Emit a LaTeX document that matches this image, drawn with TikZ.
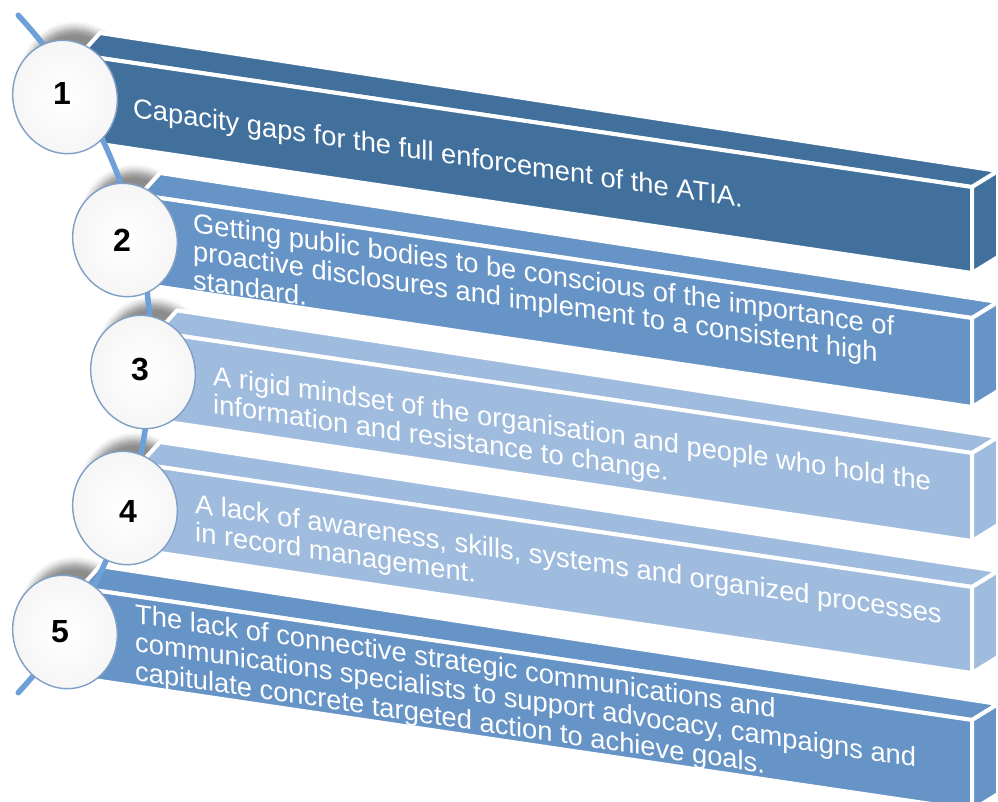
\documentclass[tikz,border=0pt]{standalone}
\usepackage{fontspec}
\setmainfont{Liberation Sans}
\usetikzlibrary{shapes.geometric,shadows.blur}
\definecolor{bdark}{HTML}{41709C}
\definecolor{bmid}{HTML}{6794C6}
\definecolor{blight}{HTML}{9FBCDE}
\definecolor{arcblue}{HTML}{6CA0D6}
\definecolor{rim}{HTML}{7F9FC4}
% #1 colour, #2 xL, #3 yTL, #4 yTR, #5 h
\newcommand{\drawbar}[5]{%
  \path[face=#1] (#2,#3) -- (972,#4) -- (998,{#4-16}) -- ({#2+20},{#3-22}) -- cycle;
  \path[face=#1] (#2,#3) -- (972,#4) -- (972,{#4+#5}) -- (#2,{#3+#5}) -- cycle;
  \path[face=#1] (972,#4) -- (998,{#4-16}) -- (998,{#4+#5-16}) -- (972,{#4+#5}) -- cycle;
}
% #1 name, #2 x, #3 y, #4 text
\newcommand{\slanttext}[4]{%
  \begin{scope}[shift={(#2,#3)}, yslant=-0.148, transform shape]
    \node[txt] (#1) at (0,0) {#4};
  \end{scope}
}
\begin{document}
\begin{tikzpicture}[x=1pt,y=-1pt,
  face/.style={fill=#1, draw=white, line width=4pt, line join=round},
  txt/.style={text=white, anchor=north west, inner sep=0pt, align=left,
    font=\fontsize{27.3}{28.5}\selectfont},
  disc/.style={ellipse, minimum width=104pt, minimum height=114pt, inner sep=0pt,
    draw=rim, line width=1.4pt, inner color=white, outer color=black!4, rotate=15},
  shad/.style={ellipse, minimum width=104pt, minimum height=114pt, inner sep=0pt,
    rotate=15, fill=white, blur shadow={shadow xshift=12pt, shadow yshift=12pt,
    shadow blur radius=7pt, shadow opacity=45}},
  num/.style={font=\fontsize{32}{32}\selectfont\bfseries, text=black, inner sep=0pt}
]
\useasboundingbox (0,0) rectangle (998,801);

% shadows of the discs
\node[shad] (s1) at (65,97) {};
\node[shad] (s2) at (125,240) {};
\node[shad] (s3) at (143,372) {};
\node[shad] (s4) at (125,508) {};
\node[shad] (s5) at (65,632) {};

% bars
\drawbar{bdark}{80}{55}{187}{86}
\drawbar{bmid}{140}{195}{318}{89}
\drawbar{blight}{157}{332.4}{453}{88}
\drawbar{blight}{140}{464}{587}{86}
\drawbar{bmid}{80}{588}{720}{90}

% texts
\slanttext{t1}{133}{97}{Capacity gaps for the full enforcement of the ATIA.}
\slanttext{t2}{193}{212}{Getting public bodies to be conscious of the importance of\\proactive disclosures and implement to a consistent high\\standard.}
\slanttext{t3}{213}{365}{A rigid mindset of the organisation and people who hold the\\information and resistance to change.}
\slanttext{t4}{195}{493}{A lack of awareness, skills, systems and organized processes\\in record management.}
\slanttext{t5}{135}{603}{The lack of connective strategic communications and\\communications specialists to support advocacy, campaigns and\\capitulate concrete targeted action to achieve goals.}

% arc
\draw[arcblue, line width=5.5pt, line cap=round]
  plot[domain=-42.8:42.8, samples=80, smooth] ({-347.5+498.5*cos(\x)},{354+498.5*sin(\x)});

% discs and numbers
\node[disc] (c1) at (65,97) {};
\node[disc] (c2) at (125,240) {};
\node[disc] (c3) at (143,372) {};
\node[disc] (c4) at (125,508) {};
\node[disc] (c5) at (65,632) {};
\node[num] (n1) at (62,93) {1};
\node[num] (n2) at (122,240) {2};
\node[num] (n3) at (140,369) {3};
\node[num] (n4) at (128,511) {4};
\node[num] (n5) at (60,632) {5};
\end{tikzpicture}
\end{document}
